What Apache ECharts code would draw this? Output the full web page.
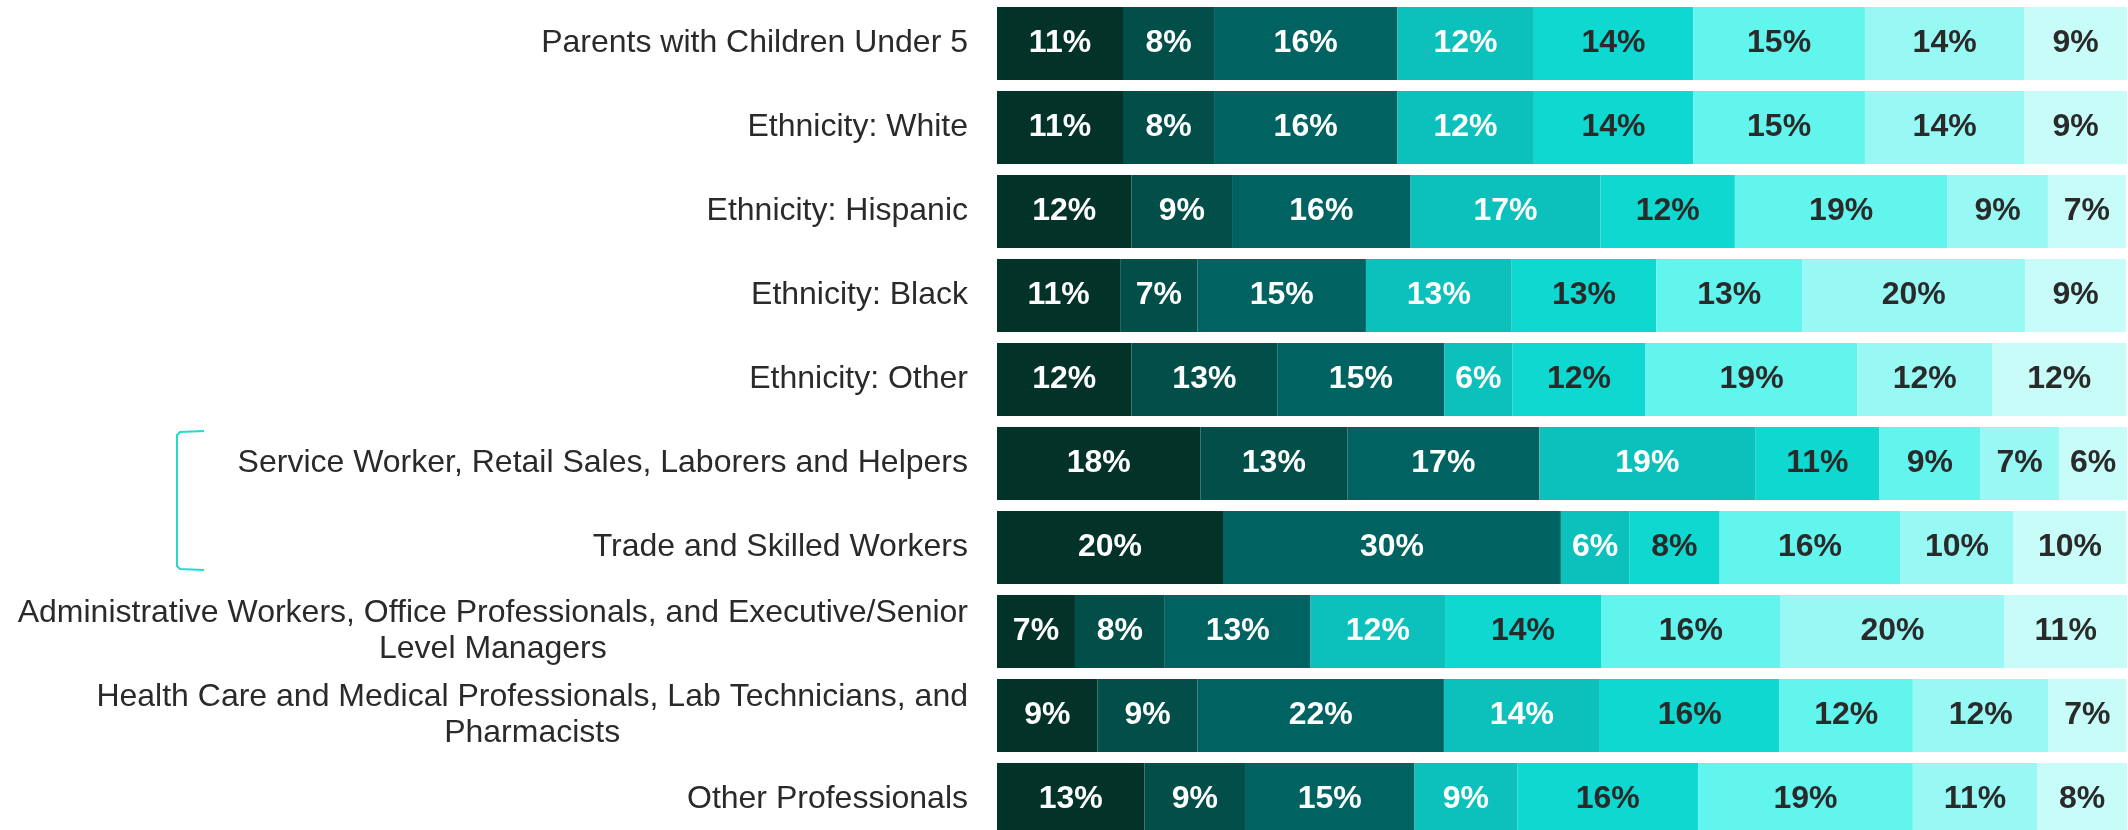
<!DOCTYPE html>
<html>
	<head>
		<meta charset="utf-8">
		<title>Stacked share</title>
		<script src="https://cdn.jsdelivr.net/npm/echarts@6/dist/echarts.min.js"></script>
	</head>
	<body style="margin:0;padding:0;background:#fff">
		<div id="main" style="width: 2128px;height:830px;"></div>
	</body>
	<script type="text/javascript">
var myChart = echarts.init(document.getElementById('main'));

// rows, top to bottom
var categories = [
    'Parents with Children Under 5',
    'Ethnicity: White',
    'Ethnicity: Hispanic',
    'Ethnicity: Black',
    'Ethnicity: Other',
    'Service Worker, Retail Sales, Laborers and Helpers',
    'Trade and Skilled Workers',
    'Administrative Workers, Office Professionals, and Executive/Senior\nLevel Managers',
    'Health Care and Medical Professionals, Lab Technicians, and\nPharmacists',
    'Other Professionals'
];

// segment shares (%), left to right
var seg1 = [11.15, 11.15, 11.9, 10.9, 11.9, 18.0, 20.0, 6.9, 8.9, 13.05];
var seg2 = [8.06, 8.06, 8.9, 6.85, 12.9, 13.0, 0, 7.95, 8.85, 8.9];
var seg3 = [16.2, 16.2, 15.8, 14.9, 14.8, 17.0, 29.9, 12.9, 21.8, 15.0];
var seg4 = [12.1, 12.1, 16.8, 12.9, 6.0, 19.1, 6.05, 11.9, 13.8, 9.1];
var seg5 = [14.1, 14.1, 11.9, 12.8, 11.8, 11.0, 8.0, 13.8, 15.9, 16.0];
var seg6 = [15.2, 15.2, 18.8, 12.9, 18.75, 8.9, 16.0, 15.9, 11.8, 19.0];
var seg7 = [14.1, 14.1, 8.9, 19.75, 11.9, 7.0, 10.0, 19.8, 12.0, 11.0];
var seg8 = [9.1, 9.1, 6.9, 8.9, 11.9, 6.0, 10.0, 10.9, 6.9, 7.95];

var segments = [seg1, seg2, seg3, seg4, seg5, seg6, seg7, seg8];
var colorList = ['#033228', '#024F4A', '#016361', '#0CC1BB', '#0ED8CF', '#62F5EE', '#98F8F3', '#C8FCF9'];
var labelColors = ['#fff', '#fff', '#fff', '#fff', '#2a2a2a', '#2a2a2a', '#2a2a2a', '#2a2a2a'];
var fontName = '"Liberation Sans", Arial, sans-serif';

var series = segments.map(function (data, i) {
    return {
        type: 'bar',
        stack: 'total',
        barWidth: 73,
        data: data,
        itemStyle: { color: colorList[i] },
        emphasis: { disabled: true },
        label: {
            show: true,
            position: 'inside',
            color: labelColors[i],
            fontFamily: fontName,
            fontWeight: 'bold',
            fontSize: 32,
            formatter: function (p) {
                return p.value > 0 ? Math.round(p.value) + '%' : '';
            }
        }
    };
});

option = {
    animation: false,
    grid: {
        left: 997,
        right: 1,
        top: 1.5,
        height: 840,
        containLabel: false,
        outerBoundsMode: 'none'
    },
    xAxis: {
        type: 'value',
        min: 0,
        max: 100,
        show: false
    },
    yAxis: {
        type: 'category',
        inverse: true,
        data: categories,
        axisLine: { show: false },
        axisTick: { show: false },
        splitLine: { show: false },
        axisLabel: {
            margin: 29,
            fontSize: 32,
            fontFamily: fontName,
            color: '#2a2a2a',
            lineHeight: 36,
            formatter: function (v) {
                if (v.indexOf('\n') < 0) return v;
                return v.split('\n').map(function (s) { return '{c|' + s + '}'; }).join('\n');
            },
            rich: {
                c: {
                    align: 'center',
                    fontSize: 32,
                    lineHeight: 36,
                    fontFamily: fontName,
                    color: '#2a2a2a'
                }
            }
        }
    },
    graphic: [{
        type: 'polyline',
        shape: { points: [[204, 431], [180, 432], [177, 435], [177, 566], [180, 569], [204, 570]] },
        style: { stroke: '#25D9D0', lineWidth: 2, fill: null }
    }],
    series: series
};

myChart.setOption(option);
	</script>
</html>
